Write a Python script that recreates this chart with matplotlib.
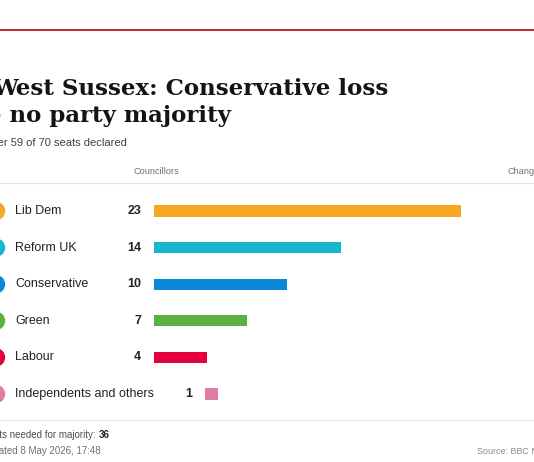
import matplotlib
matplotlib.use("Agg")
import matplotlib.pyplot as plt

# data
parties = ["Lib Dem", "Reform UK", "Conservative", "Green", "Labour",
           "Independents and others"]
seats = [23, 14, 10, 7, 4, 1]
colours = ["#f7a823", "#16b6cf", "#0a87d9", "#5db040", "#e2003d", "#e07ca5"]

title_lines = ["West Sussex: Conservative loss", "- no party majority"]
subtitle = "After 59 of 70 seats declared"
majority = 36
updated = "Updated 8 May 2026, 17:48"

plt.rcParams['font.family'] = 'Liberation Sans'

W, H = 534, 462
fig = plt.figure(figsize=(W / 100, H / 100), dpi=100)


def fx(x):
    return x / W


def fy(y):
    return 1 - y / H


# top red rule
fig.add_artist(plt.Line2D([0, 1], [fy(29.5), fy(29.5)], color="#b8141a", lw=1.3))

# title + subtitle (left edge is cropped in the reference)
fig.text(fx(-8), fy(95), title_lines[0], fontfamily="DejaVu Serif",
         fontweight="bold", fontsize=16.5, color="#141414", va="baseline")
fig.text(fx(-8), fy(122), title_lines[1], fontfamily="DejaVu Serif",
         fontweight="bold", fontsize=16.5, color="#141414", va="baseline")
fig.text(fx(-16), fy(146.5), subtitle, fontsize=8, color="#404040", va="baseline")

# column headers
fig.text(fx(133), fy(172), "Councillors", fontsize=6.6, color="#707070", va="center")
fig.text(fx(507), fy(172), "Change", fontsize=6.6, color="#707070", va="center")
fig.add_artist(plt.Line2D([0, 1], [fy(183), fy(183)], color="#e4e4e4", lw=0.8))
fig.add_artist(plt.Line2D([0, 1], [fy(419.5), fy(419.5)], color="#ececec", lw=0.8))

# bar area: full width axes between the two rules
ax = fig.add_axes([0, fy(420), 1, (420 - 183) / H])
px_per_seat = 13.33
bar_x0 = 154
row0, row_gap = 211, 36.6
ax.set_xlim(-bar_x0 / px_per_seat, (W - bar_x0) / px_per_seat)
ax.set_ylim((420 - row0) / row_gap, (183 - row0) / row_gap)
ax.axis("off")

rows = list(range(len(parties)))
# long label pushes number and bar to the right
shift_px = [51 if len(p) > 15 else 0 for p in parties]
lefts = [s / px_per_seat for s in shift_px]

ax.barh(rows, seats, left=lefts, height=0.31, color=colours)
ax.scatter([(-4 - bar_x0) / px_per_seat] * len(rows), rows, s=175,
           color=colours, clip_on=False, zorder=3, linewidths=0)

tr = ax.get_yaxis_transform()
for r, name, n, sh in zip(rows, parties, seats, shift_px):
    ax.text(fx(15), r, name, transform=tr, fontsize=9, color="#222222",
            va="center", ha="left")
    ax.text(fx(141 + sh), r, str(n), transform=tr, fontsize=9,
            fontweight="bold", color="#222222", va="center", ha="right")

# footer
t = fig.text(fx(-18), fy(438.5), "Seats needed for majority: ", fontsize=7,
             color="#505050", va="baseline")
fig.canvas.draw()
bb = t.get_window_extent()
fig.text(bb.x1 / W, fy(438.5), str(majority), fontsize=7, fontweight="bold",
         color="#222222", va="baseline")
fig.text(fx(-19), fy(453.5), updated, fontsize=7, color="#707070", va="baseline")
fig.text(fx(477), fy(453.5), "Source: BBC News", fontsize=6.4, color="#8a8a8a",
         va="baseline")

fig.savefig("out.png", dpi=100)
